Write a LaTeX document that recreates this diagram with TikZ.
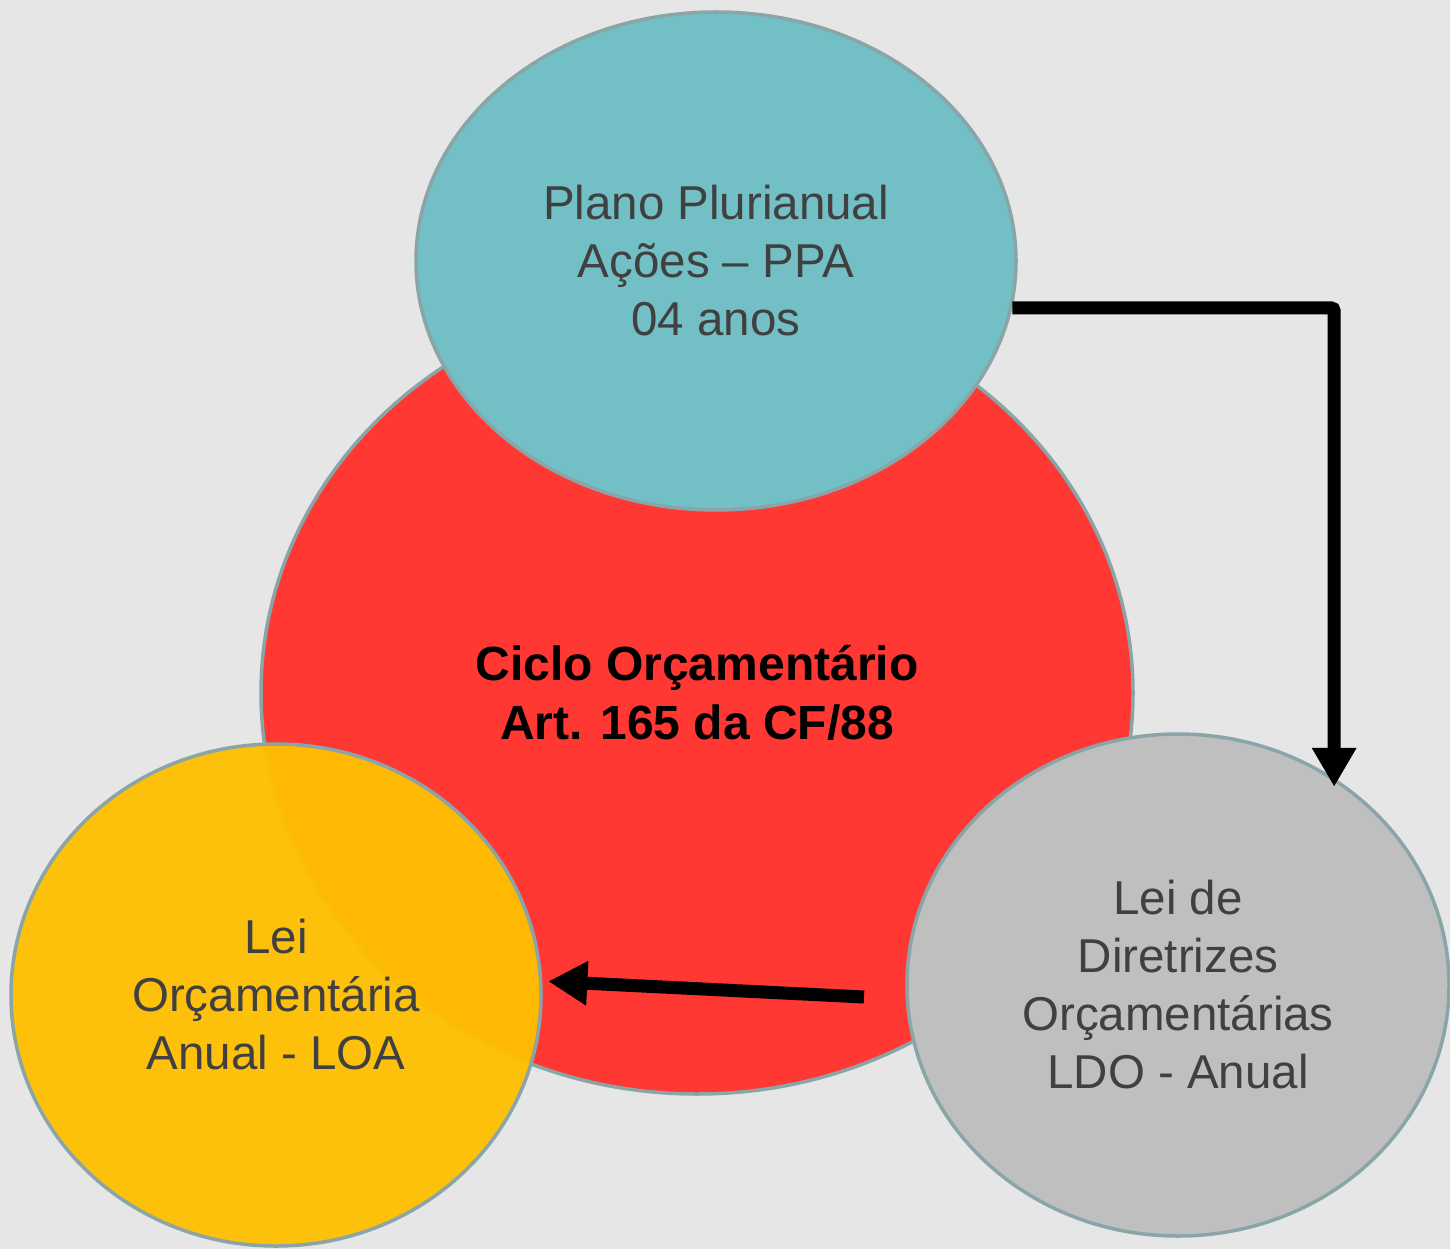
\documentclass[tikz,border=0pt]{standalone}
\usepackage{fontspec}
\setmainfont{Liberation Sans}
\usetikzlibrary{shapes.geometric,arrows.meta}
\definecolor{bg}{HTML}{E6E6E6}
\definecolor{cred}{HTML}{FF3833}
\definecolor{cteal}{HTML}{72BFC5}
\definecolor{cyel}{HTML}{FFC000}
\definecolor{cgray}{HTML}{BFBFBF}
\definecolor{edge}{HTML}{8AA5A8}
\definecolor{txt}{HTML}{404040}
\tikzset{
  blob/.style={ellipse, draw=edge, line width=3.5pt, inner sep=0pt, align=center,
    text=txt, font=\fontsize{47.5}{58}\selectfont},
  arr/.style={line width=13pt, -{Triangle[length=39pt,width=42pt]}}
}
\begin{document}
\begin{tikzpicture}[x=1pt,y=-1pt]
\fill[bg] (0,0) rectangle (1450,1249);
\useasboundingbox (0,0) rectangle (1450,1249);
\node[blob, fill=cred, minimum width=872pt, minimum height=802pt, text=black,
  font=\fontsize{48}{59}\selectfont\bfseries] (cic) at (697,693)
  {Ciclo Orçamentário\\Art. 165 da CF/88};
\node[blob, fill=cteal, minimum width=600pt, minimum height=498pt] (ppa) at (716,261)
  {Plano Plurianual\\Ações – PPA\\04 anos};
\node[blob, fill=cgray, minimum width=542pt, minimum height=502pt] (ldo) at (1178,985)
  {Lei de\\Diretrizes\\Orçamentárias\\LDO - Anual};
\node[blob, fill=cyel, fill opacity=0.95, text opacity=1, minimum width=530pt, minimum height=502pt] (loa) at (276,995)
  {Lei\\Orçamentária\\Anual - LOA};
\coordinate (t2) at (864,997);
\draw[arr, rounded corners=3pt, shorten >=-9pt] (ppa.-9.7) -| (ldo.53.3);
\draw[arr, shorten >=6pt] (t2) -- (loa.3);
\end{tikzpicture}
\end{document}
